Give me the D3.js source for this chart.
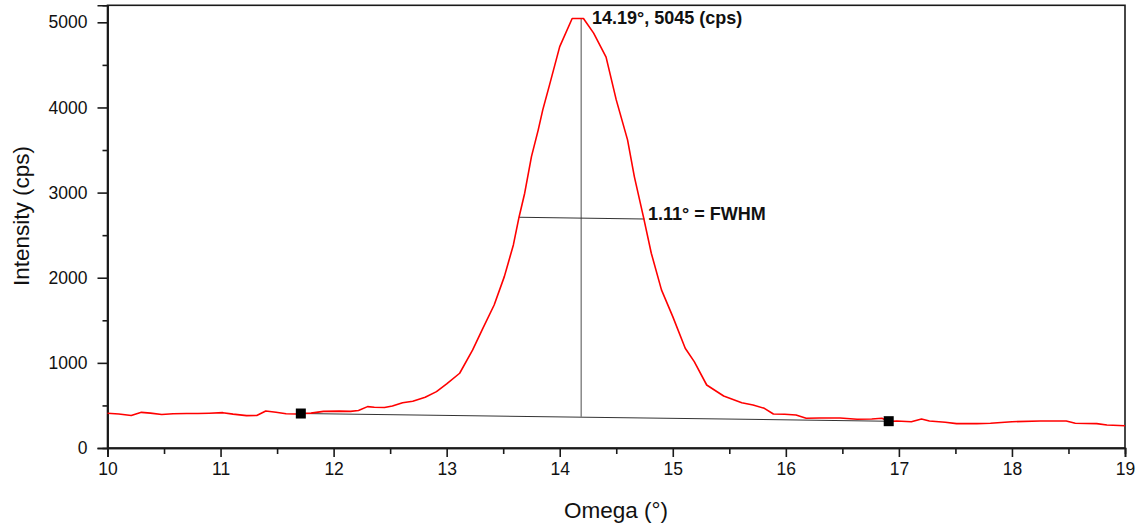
<!DOCTYPE html>
<html><head><meta charset="utf-8">
<script src="https://cdn.jsdelivr.net/npm/d3@7/dist/d3.min.js"></script>
<style>
body{margin:0;background:#fff;}
svg{display:block;font-family:Arial,"Liberation Sans",sans-serif;}
</style></head>
<body><svg id="c" width="1138" height="524"></svg>
<script>
const omega = [10.00,10.10,10.21,10.30,10.38,10.48,10.58,10.70,10.80,10.90,11.02,11.11,11.23,11.32,11.40,11.49,11.58,11.67,11.71,11.80,11.91,12.05,12.15,12.22,12.30,12.36,12.45,12.52,12.61,12.70,12.81,12.91,13.00,13.115,13.23,13.32,13.42,13.51,13.59,13.64,13.69,13.75,13.81,13.85,13.91,14.00,14.11,14.21,14.30,14.41,14.50,14.60,14.66,14.74,14.81,14.90,15.00,15.11,15.19,15.30,15.45,15.61,15.71,15.81,15.89,15.99,16.09,16.18,16.30,16.48,16.63,16.76,16.85,16.91,16.98,17.11,17.20,17.27,17.41,17.51,17.69,17.81,18.00,18.25,18.48,18.56,18.75,18.84,19.00];
const intensity = [408,400,382,419,410,394,403,405,405,408,415,398,380,382,435,419,402,400,405,410,430,433,430,440,486,478,476,493,532,549,596,662,752,878,1152,1406,1680,2013,2385,2711,2993,3423,3737,3972,4265,4715,5045,5045,4873,4591,4089,3619,3188,2718,2288,1857,1543,1171,1014,740,611,532,505,466,400,396,388,349,353,353,337,341,349,312,317,309,341,317,302,286,286,290,309,317,317,290,286,270,262];
const baselineMarkers = [[11.71,405],[16.91,315]];
const peakPoint = [14.19,5045];
const fwhmLine = [[13.64,2711],[14.75,2690]];
const peakLabel = "14.19°, 5045 (cps)";
const fwhmLabel = "1.11° = FWHM";
const xTicks = [10,11,12,13,14,15,16,17,18,19];
const xMinor = [10.5,11.5,12.5,13.5,14.5,15.5,16.5,17.5,18.5];
const yTicks = [0,1000,2000,3000,4000,5000];
const yMinor = [500,1500,2500,3500,4500];
const xTitle = "Omega (°)";
const yTitle = "Intensity (cps)";

const svg = d3.select("#c");
const L=107.5, R=1125, T=5.3, B=448;
const x = d3.scaleLinear().domain([10,19]).range([L,R]);
const y = d3.scaleLinear().domain([0,5200]).range([B,T]);

svg.append("rect").attr("x",L).attr("y",T).attr("width",R-L).attr("height",B-T)
  .attr("fill","none").attr("stroke","#1a1a1a").attr("stroke-width",1.6);

svg.append("g").attr("transform",`translate(0,${B})`)
  .call(d3.axisBottom(x).tickValues(xTicks).tickFormat(d3.format("d")).tickSize(9).tickPadding(6));
svg.append("g").attr("transform",`translate(0,${B})`)
  .call(d3.axisBottom(x).tickValues(xMinor).tickFormat("").tickSize(6));
svg.append("g").attr("transform",`translate(${L},0)`)
  .call(d3.axisLeft(y).tickValues(yTicks).tickFormat(d3.format("d")).tickSize(10).tickPadding(10));
svg.append("g").attr("transform",`translate(${L},0)`)
  .call(d3.axisLeft(y).tickValues(yMinor).tickFormat("").tickSize(5));
svg.selectAll(".domain").attr("stroke","#1a1a1a").attr("stroke-width",1.6);
svg.selectAll(".tick line").attr("stroke","#1a1a1a").attr("stroke-width",1.6);
svg.selectAll(".tick text").attr("font-size",17.5).attr("fill","#111").attr("font-family",'Arial,"Liberation Sans",sans-serif');

svg.append("text").attr("x",616).attr("y",518).attr("text-anchor","middle")
  .attr("font-size",22.5).attr("fill","#111").text(xTitle);
svg.append("text").attr("transform","translate(29,216) rotate(-90)").attr("text-anchor","middle")
  .attr("font-size",22.5).attr("fill","#111").text(yTitle);

const m0 = baselineMarkers[0], m1 = baselineMarkers[1];
svg.append("line").attr("x1",x(m0[0])).attr("y1",y(m0[1])).attr("x2",x(m1[0])).attr("y2",y(m1[1]))
  .attr("stroke","#333").attr("stroke-width",1.1);
const baseAtPeak = m0[1] + (peakPoint[0]-m0[0])/(m1[0]-m0[0])*(m1[1]-m0[1]);
svg.append("line").attr("x1",x(peakPoint[0])).attr("x2",x(peakPoint[0]))
  .attr("y1",y(peakPoint[1])).attr("y2",y(baseAtPeak))
  .attr("stroke","#808080").attr("stroke-width",1.4);
svg.append("line").attr("x1",x(fwhmLine[0][0])).attr("y1",y(fwhmLine[0][1]))
  .attr("x2",x(fwhmLine[1][0])).attr("y2",y(fwhmLine[1][1]))
  .attr("stroke","#333").attr("stroke-width",1.1);

const data = omega.map((d,i)=>[d,intensity[i]]);
svg.append("path").datum(data).attr("fill","none").attr("stroke","#ff0000").attr("stroke-width",1.6)
  .attr("stroke-linejoin","round")
  .attr("d",d3.line().x(d=>x(d[0])).y(d=>y(d[1])));

svg.selectAll("rect.mk").data(baselineMarkers).enter().append("rect").attr("class","mk")
  .attr("x",d=>x(d[0])-5).attr("y",d=>y(d[1])-5).attr("width",10).attr("height",10).attr("fill","#000");

svg.append("text").attr("x",592).attr("y",24).attr("font-size",18).attr("font-weight","bold")
  .attr("fill","#111").text(peakLabel);
svg.append("text").attr("x",648).attr("y",220).attr("font-size",18).attr("font-weight","bold")
  .attr("fill","#111").text(fwhmLabel);
</script></body></html>
